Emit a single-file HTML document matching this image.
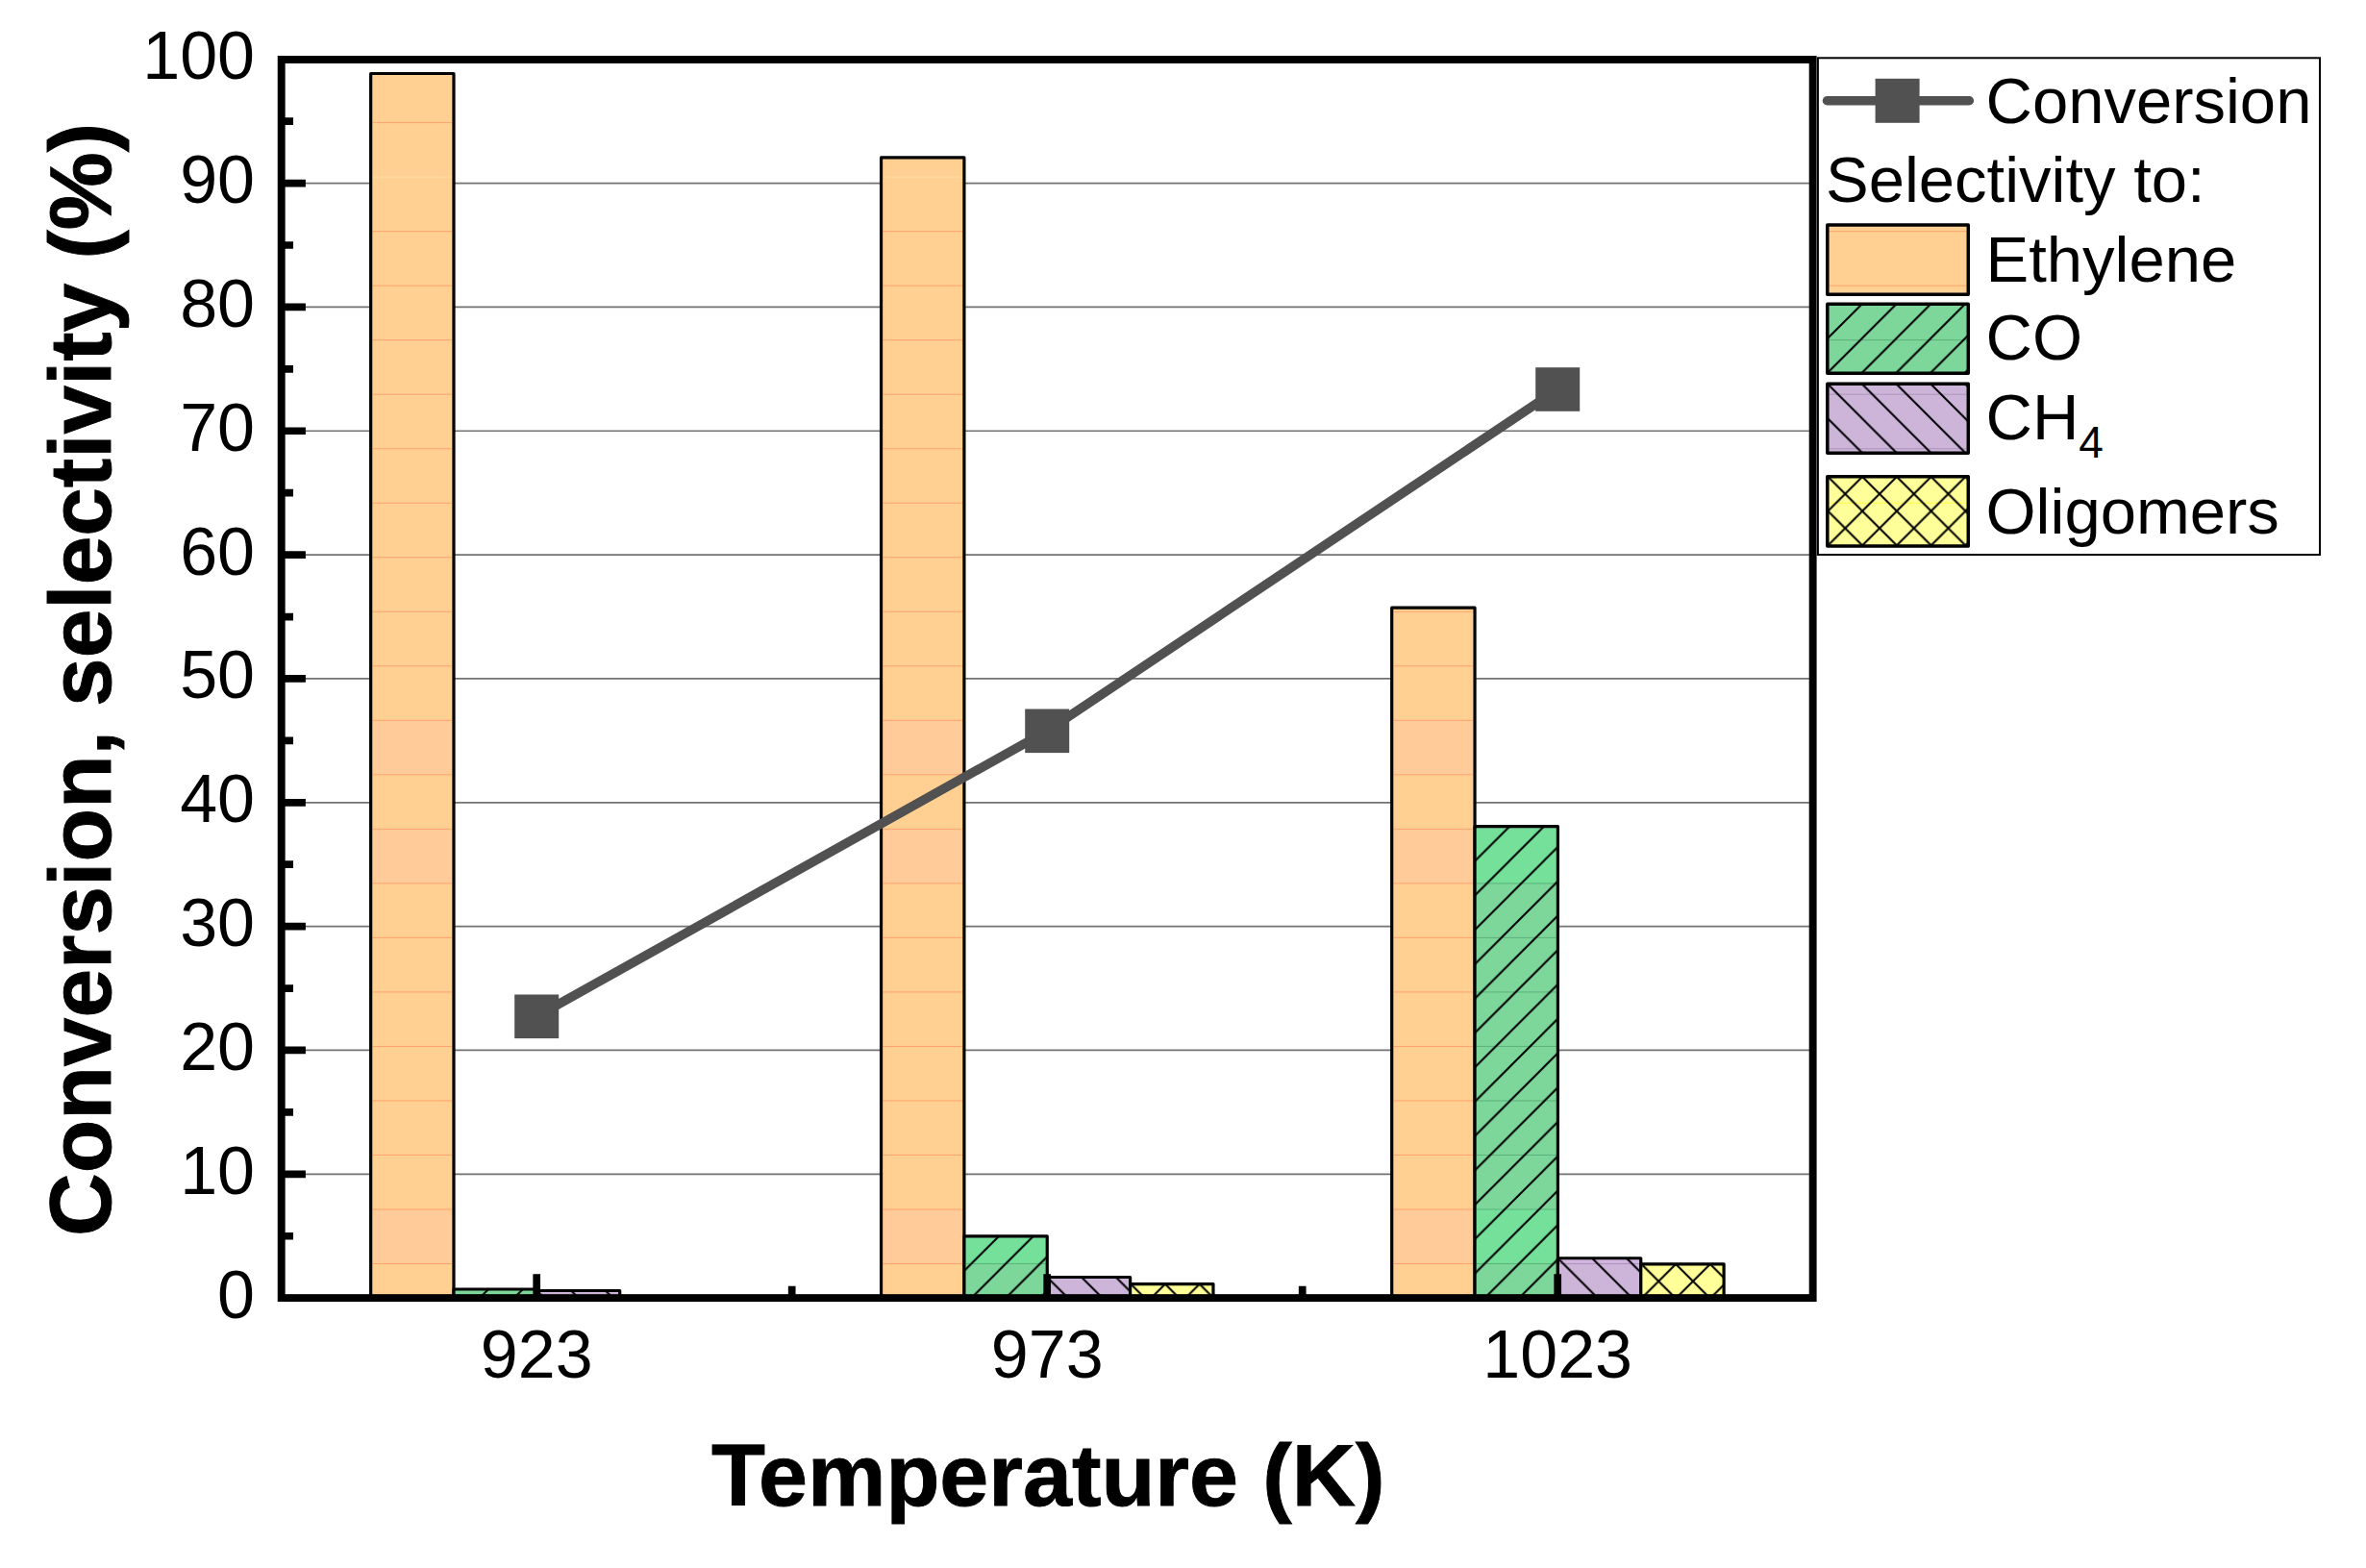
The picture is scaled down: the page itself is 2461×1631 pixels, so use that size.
<!DOCTYPE html>
<html lang="en"><head><meta charset="utf-8"><title>Conversion, selectivity vs Temperature</title>
<style>
html,body{margin:0;padding:0;background:#fff;}
body{width:2461px;height:1631px;overflow:hidden;}
svg{display:block;}
text{font-family:"Liberation Sans",Arial,Helvetica,sans-serif;fill:#000;}
.tk{font-size:70px;}
.lg{font-size:67px;}
.ttl{font-size:91.6px;font-weight:bold;stroke:#000;stroke-width:0.9px;}
</style></head><body>
<svg width="2461" height="1631" viewBox="0 0 2461 1631">
<defs>
<pattern id="hco" patternUnits="userSpaceOnUse" x="0.30" y="0.00" width="35.75" height="35.75"><path d="M-2.00 37.75L37.75 -2.00M-2.00 2.00L2.00 -2.00M33.75 37.75L37.75 33.75" stroke="#000" stroke-width="2" fill="none"/></pattern>
<pattern id="hch4" patternUnits="userSpaceOnUse" x="0.00" y="0.00" width="35.75" height="35.75"><path d="M-2.00 -2.00L37.75 37.75M33.75 -2.00L37.75 2.00M-2.00 33.75L2.00 37.75" stroke="#000" stroke-width="2" fill="none"/></pattern>
<pattern id="holi" patternUnits="userSpaceOnUse" x="0.60" y="0.00" width="35.75" height="35.75"><path d="M-2.00 37.75L37.75 -2.00M-2.00 2.00L2.00 -2.00M33.75 37.75L37.75 33.75M-2.00 -2.00L37.75 37.75M33.75 -2.00L37.75 2.00M-2.00 33.75L2.00 37.75" stroke="#000" stroke-width="2" fill="none"/></pattern>
</defs>
<rect x="0" y="0" width="2461" height="1631" fill="#fff"/>
<path d="M292.70 1221.31H1885.65M292.70 1092.47H1885.65M292.70 963.63H1885.65M292.70 834.79H1885.65M292.70 705.95H1885.65M292.70 577.11H1885.65M292.70 448.27H1885.65M292.70 319.43H1885.65M292.70 190.59H1885.65" stroke="#727272" stroke-width="1.7" fill="none"/>
<rect x="385.65" y="76.50" width="86.35" height="1273.60" fill="#FFD091"/>
<rect x="387.25" y="749.32" width="83.15" height="56.52" fill="#FFCC99"/>
<rect x="387.25" y="862.36" width="83.15" height="56.52" fill="#FFCC99"/>
<rect x="387.25" y="1258.00" width="83.15" height="56.52" fill="#FFCC99"/>
<path d="M387.25 184.12H470.40" stroke="#FFE0B0" stroke-width="0.9" stroke-opacity="0.9" fill="none"/>
<path d="M387.25 127.60H470.40M387.25 240.64H470.40M387.25 297.16H470.40M387.25 353.68H470.40M387.25 410.20H470.40M387.25 466.72H470.40M387.25 523.24H470.40M387.25 579.76H470.40M387.25 636.28H470.40M387.25 692.80H470.40M387.25 749.32H470.40M387.25 805.84H470.40M387.25 862.36H470.40M387.25 918.88H470.40M387.25 975.40H470.40M387.25 1031.92H470.40M387.25 1088.44H470.40M387.25 1144.96H470.40M387.25 1201.48H470.40M387.25 1258.00H470.40M387.25 1314.52H470.40" stroke="#FF9060" stroke-width="0.9" stroke-opacity="0.80" fill="none"/>
<rect transform="translate(385.65 76.50)" x="0" y="0" width="86.35" height="1273.60" fill="none" stroke="#000" stroke-width="3.2" stroke-linejoin="round"/>
<rect x="472.00" y="1341.00" width="86.35" height="9.10" fill="#7DD69A"/>
<rect transform="translate(472.00 1341.00)" x="0" y="0" width="86.35" height="9.10" fill="url(#hco)" stroke="#000" stroke-width="3.2" stroke-linejoin="round"/>
<rect x="558.35" y="1342.50" width="86.35" height="7.60" fill="#CDB5DA"/>
<rect transform="translate(558.35 1342.50)" x="0" y="0" width="86.35" height="7.60" fill="url(#hch4)" stroke="#000" stroke-width="3.2" stroke-linejoin="round"/>
<rect x="916.55" y="163.95" width="86.35" height="1186.15" fill="#FFD091"/>
<rect x="918.15" y="749.32" width="83.15" height="56.52" fill="#FFCC99"/>
<rect x="918.15" y="862.36" width="83.15" height="56.52" fill="#FFCC99"/>
<rect x="918.15" y="1258.00" width="83.15" height="56.52" fill="#FFCC99"/>
<path d="M918.15 184.12H1001.30" stroke="#FFE0B0" stroke-width="0.9" stroke-opacity="0.9" fill="none"/>
<path d="M918.15 240.64H1001.30M918.15 297.16H1001.30M918.15 353.68H1001.30M918.15 410.20H1001.30M918.15 466.72H1001.30M918.15 523.24H1001.30M918.15 579.76H1001.30M918.15 636.28H1001.30M918.15 692.80H1001.30M918.15 749.32H1001.30M918.15 805.84H1001.30M918.15 862.36H1001.30M918.15 918.88H1001.30M918.15 975.40H1001.30M918.15 1031.92H1001.30M918.15 1088.44H1001.30M918.15 1144.96H1001.30M918.15 1201.48H1001.30M918.15 1258.00H1001.30M918.15 1314.52H1001.30" stroke="#FF9060" stroke-width="0.9" stroke-opacity="0.80" fill="none"/>
<rect transform="translate(916.55 163.95)" x="0" y="0" width="86.35" height="1186.15" fill="none" stroke="#000" stroke-width="3.2" stroke-linejoin="round"/>
<rect x="1002.90" y="1285.90" width="86.35" height="64.20" fill="#7DD69A"/>
<rect x="1004.50" y="1287.50" width="83.15" height="27.02" fill="#74E09A"/>
<path d="M1004.50 1314.52H1087.65" stroke="#2E7D4F" stroke-width="0.9" stroke-opacity="0.45" fill="none"/>
<rect transform="translate(1002.90 1285.90)" x="0" y="0" width="86.35" height="64.20" fill="url(#hco)" stroke="#000" stroke-width="3.2" stroke-linejoin="round"/>
<rect x="1089.25" y="1328.50" width="86.35" height="21.60" fill="#CDB5DA"/>
<rect transform="translate(1089.25 1328.50)" x="0" y="0" width="86.35" height="21.60" fill="url(#hch4)" stroke="#000" stroke-width="3.2" stroke-linejoin="round"/>
<rect x="1175.60" y="1335.60" width="86.35" height="14.50" fill="#FFFF99"/>
<rect transform="translate(1175.60 1335.60)" x="0" y="0" width="86.35" height="14.50" fill="url(#holi)" stroke="#000" stroke-width="3.2" stroke-linejoin="round"/>
<rect x="1447.70" y="632.20" width="86.35" height="717.90" fill="#FFD091"/>
<rect x="1449.30" y="749.32" width="83.15" height="56.52" fill="#FFCC99"/>
<rect x="1449.30" y="862.36" width="83.15" height="56.52" fill="#FFCC99"/>
<rect x="1449.30" y="1258.00" width="83.15" height="56.52" fill="#FFCC99"/>
<path d="M1449.30 636.28H1532.45M1449.30 692.80H1532.45M1449.30 749.32H1532.45M1449.30 805.84H1532.45M1449.30 862.36H1532.45M1449.30 918.88H1532.45M1449.30 975.40H1532.45M1449.30 1031.92H1532.45M1449.30 1088.44H1532.45M1449.30 1144.96H1532.45M1449.30 1201.48H1532.45M1449.30 1258.00H1532.45M1449.30 1314.52H1532.45" stroke="#FF9060" stroke-width="0.9" stroke-opacity="0.80" fill="none"/>
<rect transform="translate(1447.70 632.20)" x="0" y="0" width="86.35" height="717.90" fill="none" stroke="#000" stroke-width="3.2" stroke-linejoin="round"/>
<rect x="1534.05" y="859.70" width="86.35" height="490.40" fill="#7DD69A"/>
<rect x="1535.65" y="862.36" width="83.15" height="56.52" fill="#74E09A"/>
<rect x="1535.65" y="1258.00" width="83.15" height="56.52" fill="#74E09A"/>
<path d="M1535.65 918.88H1618.80M1535.65 975.40H1618.80M1535.65 1031.92H1618.80M1535.65 1088.44H1618.80M1535.65 1144.96H1618.80M1535.65 1201.48H1618.80M1535.65 1258.00H1618.80M1535.65 1314.52H1618.80" stroke="#2E7D4F" stroke-width="0.9" stroke-opacity="0.45" fill="none"/>
<rect transform="translate(1534.05 859.70)" x="0" y="0" width="86.35" height="490.40" fill="url(#hco)" stroke="#000" stroke-width="3.2" stroke-linejoin="round"/>
<rect x="1620.40" y="1308.75" width="86.35" height="41.35" fill="#CDB5DA"/>
<rect x="1622.00" y="1310.35" width="83.15" height="4.17" fill="#D2B4E0"/>
<path d="M1622.00 1314.52H1705.15" stroke="#6E5A80" stroke-width="0.9" stroke-opacity="0.40" fill="none"/>
<rect transform="translate(1620.40 1308.75)" x="0" y="0" width="86.35" height="41.35" fill="url(#hch4)" stroke="#000" stroke-width="3.2" stroke-linejoin="round"/>
<rect x="1706.75" y="1314.85" width="86.35" height="35.25" fill="#FFFF99"/>
<rect transform="translate(1706.75 1314.85)" x="0" y="0" width="86.35" height="35.25" fill="url(#holi)" stroke="#000" stroke-width="3.2" stroke-linejoin="round"/>
<rect x="292.70" y="62.00" width="1592.95" height="1288.10" fill="none" stroke="#000" stroke-width="7.9"/>
<path d="M292.70 1285.73h12.30M292.70 1221.31h25.20M292.70 1156.89h12.30M292.70 1092.47h25.20M292.70 1028.05h12.30M292.70 963.63h25.20M292.70 899.21h12.30M292.70 834.79h25.20M292.70 770.37h12.30M292.70 705.95h25.20M292.70 641.53h12.30M292.70 577.11h25.20M292.70 512.69h12.30M292.70 448.27h25.20M292.70 383.85h12.30M292.70 319.43h25.20M292.70 255.01h12.30M292.70 190.59h25.20M292.70 126.17h12.30M558.20 1350.10v-24.90M1089.20 1350.10v-24.90M1620.20 1350.10v-24.90M823.70 1350.10v-12.30M1354.70 1350.10v-12.30" stroke="#000" stroke-width="7.7" fill="none"/>
<polyline points="558.20,1057.30 1089.20,760.30 1620.20,405.00" fill="none" stroke="#515151" stroke-width="9.6" stroke-linecap="round" stroke-linejoin="round"/>
<rect x="535.20" y="1034.50" width="46" height="45.6" fill="#515151"/>
<rect x="1066.20" y="737.50" width="46" height="45.6" fill="#515151"/>
<rect x="1597.20" y="382.20" width="46" height="45.6" fill="#515151"/>
<text class="tk" x="265" y="1370.65" text-anchor="end">0</text>
<text class="tk" x="265" y="1241.81" text-anchor="end">10</text>
<text class="tk" x="265" y="1112.97" text-anchor="end">20</text>
<text class="tk" x="265" y="984.13" text-anchor="end">30</text>
<text class="tk" x="265" y="855.29" text-anchor="end">40</text>
<text class="tk" x="265" y="726.45" text-anchor="end">50</text>
<text class="tk" x="265" y="597.61" text-anchor="end">60</text>
<text class="tk" x="265" y="468.77" text-anchor="end">70</text>
<text class="tk" x="265" y="339.93" text-anchor="end">80</text>
<text class="tk" x="265" y="211.09" text-anchor="end">90</text>
<text class="tk" x="265" y="82.25" text-anchor="end">100</text>
<text class="tk" x="558.20" y="1433.4" text-anchor="middle">923</text>
<text class="tk" x="1089.20" y="1433.4" text-anchor="middle">973</text>
<text class="tk" x="1620.20" y="1433.4" text-anchor="middle">1023</text>
<text class="ttl" x="1090.2" y="1566.1" text-anchor="middle">Temperature (K)</text>
<text class="ttl" style="font-size:91px" transform="translate(115.2 707) rotate(-90)" text-anchor="middle">Conversion, selectivity (%)</text>
<rect x="1890.9" y="60.3" width="522.10" height="516.70" fill="#fff" stroke="#000" stroke-width="2"/>
<path d="M1900.4 104.8H2048.4" stroke="#515151" stroke-width="9.4" stroke-linecap="round" fill="none"/>
<rect x="1950.6" y="81.8" width="46" height="46" fill="#515151"/>
<text class="lg" x="2065.5" y="127.6">Conversion</text>
<text class="lg" x="1899" y="210">Selectivity to:</text>
<rect x="1900.80" y="233.95" width="146.50" height="72.20" fill="#FFD091"/>
<path d="M1902.55 240.64H2045.55M1902.55 297.16H2045.55" stroke="#FF9060" stroke-width="0.9" stroke-opacity="0.80" fill="none"/>
<rect transform="translate(1900.80 233.95)" x="0" y="0" width="146.50" height="72.20" fill="none" stroke="#000" stroke-width="3.5" stroke-linejoin="round"/>
<text class="lg" x="2065.5" y="293.20">Ethylene</text>
<rect x="1900.80" y="316.15" width="146.50" height="72.20" fill="#7DD69A"/>
<path d="M1902.55 353.68H2045.55" stroke="#2E7D4F" stroke-width="0.9" stroke-opacity="0.45" fill="none"/>
<rect transform="translate(1900.80 316.15)" x="0" y="0" width="146.50" height="72.20" fill="url(#hco)" stroke="#000" stroke-width="3.5" stroke-linejoin="round"/>
<text class="lg" x="2065.5" y="374.00">CO</text>
<rect x="1900.80" y="399.15" width="146.50" height="72.20" fill="#CDB5DA"/>
<path d="M1902.55 410.20H2045.55M1902.55 466.72H2045.55" stroke="#6E5A80" stroke-width="0.9" stroke-opacity="0.40" fill="none"/>
<rect transform="translate(1900.80 399.15)" x="0" y="0" width="146.50" height="72.20" fill="url(#hch4)" stroke="#000" stroke-width="3.5" stroke-linejoin="round"/>
<text class="lg" x="2065.5" y="456.60">CH<tspan dy="19.2" font-size="46px">4</tspan></text>
<rect x="1900.80" y="495.85" width="146.50" height="72.20" fill="#FFFF99"/>
<path d="M1902.55 523.24H2045.55" stroke="#FFFF30" stroke-width="0.9" stroke-opacity="0.90" fill="none"/>
<rect transform="translate(1900.80 495.85)" x="0" y="0" width="146.50" height="72.20" fill="url(#holi)" stroke="#000" stroke-width="3.5" stroke-linejoin="round"/>
<text class="lg" x="2065.5" y="554.60">Oligomers</text>
</svg>
</body></html>
